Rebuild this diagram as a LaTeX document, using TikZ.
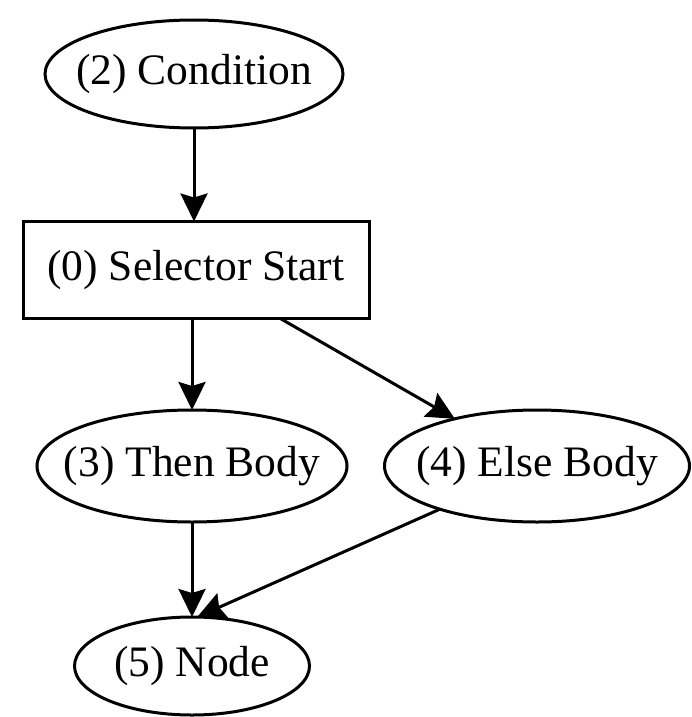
\documentclass[tikz,border=0pt]{standalone}
\usepackage{fontspec}
\setmainfont{Liberation Serif}
\usetikzlibrary{shapes.geometric,arrows.meta}
\newcommand\nodetext[1]{\makebox[0pt]{\raisebox{-10pt}{#1}}}
\begin{document}
\begin{tikzpicture}[x=1pt,y=-1pt,
  every node/.style={inner sep=0pt, outer sep=0pt, line width=3pt, draw,
    font=\fontsize{43.5}{50}\selectfont},
  oval/.style={ellipse, minimum height=108pt},
  box/.style={rectangle, minimum width=346pt, minimum height=97pt},
  flow/.style={line width=3pt, -{Stealth[length=28pt,width=27pt,inset=4pt]}}]
\useasboundingbox (0,0) rectangle (692,717);

\node[oval, minimum width=298pt] (cond) at (194,74) {\nodetext{(2) Condition}};
\node[box] (sel) at (196,270) {\nodetext{(0) Selector Start}};
\node[oval, minimum width=310pt, minimum height=112pt] (then) at (192,466) {\nodetext{(3) Then Body}};
\node[oval, minimum width=305pt, minimum height=112pt] (else) at (537,466) {\nodetext{(4) Else Body}};
\node[oval, minimum width=235pt, minimum height=98pt] (last) at (192,666) {\nodetext{(5) Node}};

\draw[flow] (cond) -- (cond |- sel.north);
\draw[flow] (then |- sel.south) -- (then);
\draw[flow] (sel) -- (else);
\draw[flow] (then) -- (last);
\draw[flow] (else) -- (last.84);
\end{tikzpicture}
\end{document}
